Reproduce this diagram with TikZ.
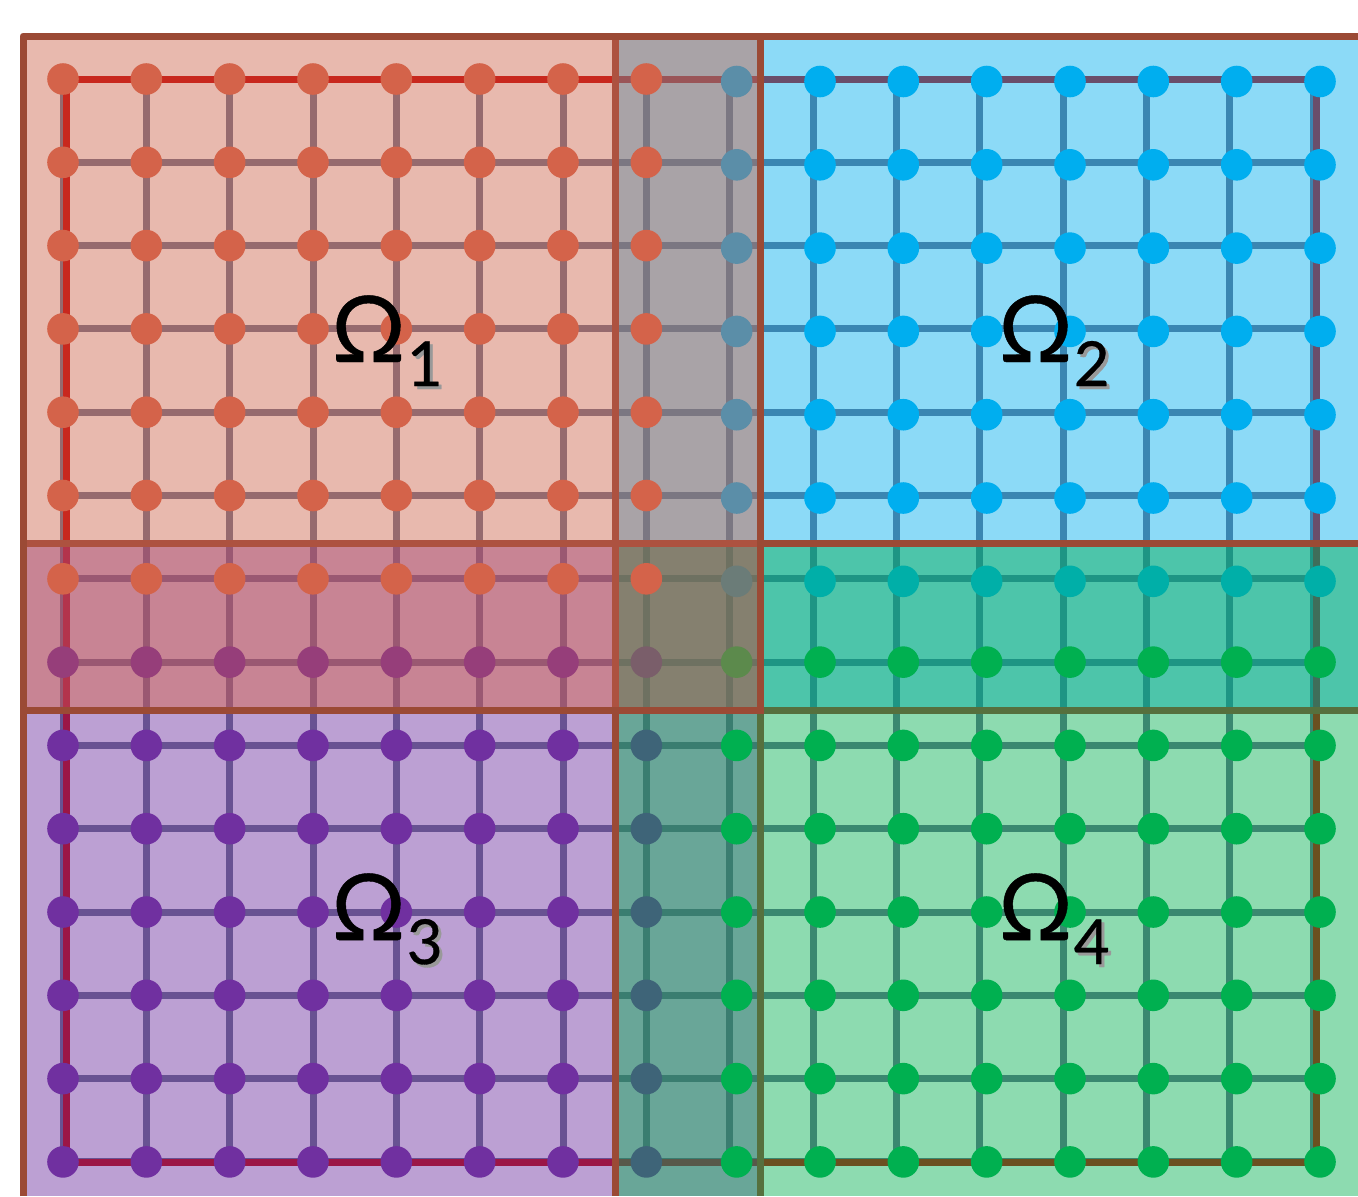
\documentclass[tikz,border=0pt]{standalone}
\usepackage{fontspec}
\newfontfamily\labfont[FakeBold=0.5]{Lato}
\definecolor{fTL}{HTML}{E8B9AE}\definecolor{fTM}{HTML}{A9A3A7}\definecolor{fTR}{HTML}{8CDAF7}
\definecolor{fML}{HTML}{C88494}\definecolor{fMM}{HTML}{85806F}\definecolor{fMR}{HTML}{4DC5AA}
\definecolor{fBL}{HTML}{BCA0D3}\definecolor{fBM}{HTML}{69A698}\definecolor{fBR}{HTML}{8DDBB0}
\definecolor{lTL}{HTML}{966A6E}\definecolor{lTM}{HTML}{7B7782}\definecolor{lTR}{HTML}{3A86B2}
\definecolor{lML}{HTML}{9A5872}\definecolor{lMM}{HTML}{6E7161}\definecolor{lMR}{HTML}{1E9584}
\definecolor{lBL}{HTML}{685292}\definecolor{lBM}{HTML}{3A7D70}\definecolor{lBR}{HTML}{3A8870}
\definecolor{bTL}{HTML}{C8281E}\definecolor{bTM}{HTML}{9A5558}\definecolor{bTR}{HTML}{6A4E6B}
\definecolor{bML}{HTML}{B3344C}\definecolor{bMM}{HTML}{6E7161}\definecolor{bMR}{HTML}{3F6E5A}
\definecolor{bBL}{HTML}{9B1646}\definecolor{bBM}{HTML}{58584A}\definecolor{bBR}{HTML}{6B5020}
\definecolor{dO}{HTML}{D4634A}\definecolor{dB}{HTML}{00AEEF}\definecolor{dBm}{HTML}{5B8EA8}
\definecolor{dT}{HTML}{00AFA8}\definecolor{dGT}{HTML}{6B7C78}\definecolor{dP}{HTML}{7030A0}
\definecolor{dSl}{HTML}{3E6478}\definecolor{dMag}{HTML}{963E7A}\definecolor{dMG}{HTML}{7A5E6A}
\definecolor{dG}{HTML}{00B050}\definecolor{dGm}{HTML}{5C8A4C}
\definecolor{brD}{HTML}{9B4A35}\definecolor{brL}{HTML}{AD5240}\definecolor{brO}{HTML}{56703E}
\newcommand\myregion[7]{%
  \fill[#5] (#1,#2) rectangle (#3,#4);
  \begin{scope}
    \clip (#1,#2) rectangle (#3,#4);
    \foreach \i in {0,...,15} \draw[gridline,#6] ({63+83.333*\i},79) -- ({63+83.333*\i},1162);
    \foreach \j in {0,...,13} \draw[gridline,#6] (63,{79+83.3*\j}) -- (1313,{79+83.3*\j});
    \draw[gridline,#7] (66,79) rectangle (1316,1162);
  \end{scope}}
\newcommand\mydots[5]{% colour, i from, i to, j from, j to
  \foreach \i in {#2,...,#3} \foreach \j in {#4,...,#5}
    \fill[#1] ({63+83.333*\i+(\i>7?7:0)},{79+83.3*\j+((\i>7)&&(\j<7)?2.5:0)}) circle[radius=7.9pt];}
\newcommand\omlab[1]{{\fontsize{46}{46}\selectfont Ω}\kern0.5pt\raisebox{-12pt}{\fontsize{31}{31}\selectfont\rlap{\kern1.5pt\raisebox{-1.5pt}{\textcolor{black!40}{#1}}}#1}}
\begin{document}
\begin{tikzpicture}[x=0.5pt,y=-0.5pt,
  gridline/.style={line width=3.5pt},
  border/.style={line width=3.5pt},
  lbl/.style={anchor=base west,inner sep=0pt,font=\labfont}]
\useasboundingbox (0,0) rectangle (1358,1196);
% regions: fills, grid lines, domain boundary
\myregion{23}{36}{615.5}{543.5}{fTL}{lTL}{bTL}
\myregion{615.5}{36}{760}{543.5}{fTM}{lTM}{bTM}
\myregion{760}{36}{1358}{543.5}{fTR}{lTR}{bTR}
\myregion{23}{543.5}{615.5}{710}{fML}{lML}{bML}
\myregion{615.5}{543.5}{760}{710}{fMM}{lMM}{bMM}
\myregion{760}{543.5}{1358}{710}{fMR}{lMR}{bMR}
\myregion{23}{710}{615.5}{1196}{fBL}{lBL}{bBL}
\myregion{615.5}{710}{760}{1196}{fBM}{lBM}{bBM}
\myregion{760}{710}{1358}{1196}{fBR}{lBR}{bBR}
% dots
\mydots{dO}{0}{7}{0}{6}
\mydots{dB}{9}{15}{0}{5}
\mydots{dBm}{8}{8}{0}{5}
\mydots{dT}{9}{15}{6}{6}
\mydots{dGT}{8}{8}{6}{6}
\mydots{dP}{0}{6}{8}{13}
\mydots{dSl}{7}{7}{8}{13}
\mydots{dMag}{0}{6}{7}{7}
\mydots{dMG}{7}{7}{7}{7}
\mydots{dG}{8}{15}{8}{13}
\mydots{dG}{9}{15}{7}{7}
\mydots{dGm}{8}{8}{7}{7}
% subdomain borders
\draw[border,brL] (615.5,36) -- (615.5,710);
\draw[border,brL] (23,543.5) -- (760,543.5);
\draw[border,brD] (615.5,710) -- (615.5,1196);
\draw[border,brD] (760,543.5) -- (1358,543.5);
\draw[border,brO] (760,710) -- (760,1196);
\draw[border,brO] (760,710) -- (1358,710);
\draw[border,brD,line join=round] (23,1196) -- (23,36) -- (1358,36);
\draw[border,brD] (760,36) -- (760,710) -- (23,710);
% labels
\node[lbl] (o1) at (331,362) {\omlab{1}};
\node[lbl] (o2) at (998,362) {\omlab{2}};
\node[lbl] (o3) at (331,940) {\omlab{3}};
\node[lbl] (o4) at (998,940) {\omlab{4}};
\end{tikzpicture}
\end{document}
